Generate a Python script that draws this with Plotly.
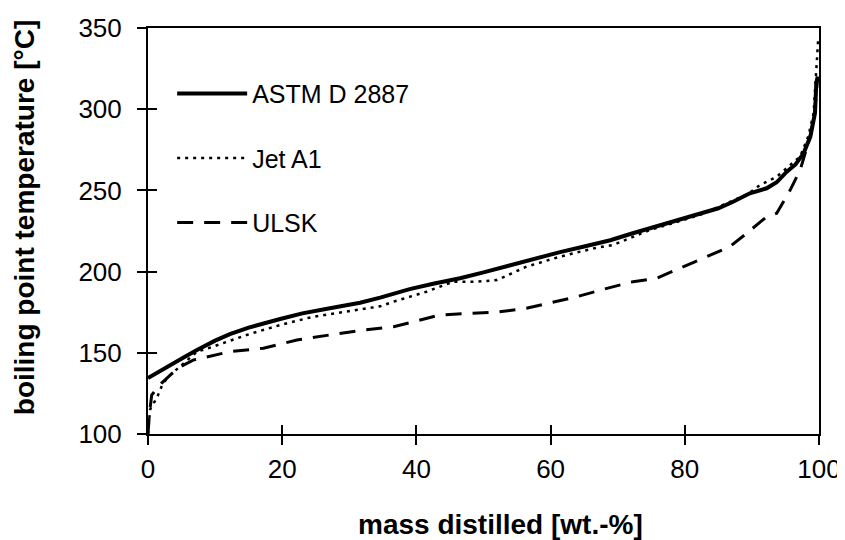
import plotly.graph_objects as go

# ---- data ----
astm_x = [0, 2, 3.8, 5.5, 7.3, 10, 12.2, 15, 19.7, 23, 27.1, 31.6, 34.6, 39, 42.5, 46.5, 50, 54,
          57.5, 61.4, 65, 68.9, 72, 74.8, 78.5, 82.3, 85, 87.2, 89.7, 92.2, 93.7, 95.2, 96.5,
          97.7, 98.7, 99.4, 99.6, 99.8]
astm_y = [134.5, 139, 143.5, 147.5, 151.7, 157.5, 161.5, 165.5, 170.8, 174.3, 177.4, 180.8, 184,
          189.2, 192.5, 195.9, 199.5, 204, 208, 212, 215.5, 219.3, 223.3, 226.7, 231, 235.9, 239,
          243, 248.2, 251.3, 255, 261.5, 266, 272.8, 283, 297.5, 316, 320]

jet_x = [0, 0.15, 0.3, 0.6, 1.0, 1.5, 2.2, 3.3, 4.8, 6, 7.3, 9.7, 14.7, 19.7, 24.6, 29.6, 31.6,
         34.6, 36.6, 41.5, 45.5, 49, 52, 56.4, 61.4, 66.4, 69.3, 74.8, 82.3, 87.2, 89.5, 91.2,
         93.7, 97.2, 98.4, 99.2, 99.6, 99.9]
jet_y = [100, 108, 114.8, 118, 120, 124, 131, 136.3, 141.4, 146, 150.7, 153.8, 161, 167.1, 172.2,
         175.3, 176.8, 178.6, 181.5, 187.6, 193.8, 193.8, 194.8, 203, 209.2, 214.3, 216.4, 225.6,
         234.9, 244.1, 248, 253.3, 258.4, 270.9, 283.2, 297.5, 324, 344.6]

ulsk_x = [0, 0.2, 0.55, 1.2, 2, 3.3, 4.8, 6.8, 9, 12.2, 17.2, 22.2, 27.1, 32.1, 36.6, 40, 43.5,
          48, 52, 56.4, 59.9, 63.9, 68.4, 72.3, 75.8, 79.8, 83.3, 86.7, 89.2, 92.2, 93.7, 95.7,
          97.2, 97.9, 98.8, 99.4, 99.8]
ulsk_y = [100, 112, 124, 127, 131.2, 136.3, 141.4, 145.6, 147.5, 150.7, 152.8, 157.9, 161, 164,
          166, 169.5, 173.3, 174.3, 175, 177.4, 180.5, 184.5, 189.7, 193.8, 195.9, 203, 209.2,
          215.3, 223.5, 233.8, 235.9, 250.2, 262.6, 272.8, 285, 300, 320]

x_ticks = [0, 20, 40, 60, 80, 100]
y_ticks = [100, 150, 200, 250, 300, 350]
x_title = "mass distilled [wt.-%]"
y_title = "boiling point temperature [°C]"

FONT = "Liberation Sans, Arial, sans-serif"

fig = go.Figure()
fig.add_trace(go.Scatter(x=astm_x, y=astm_y, mode="lines", name="ASTM D 2887",
                         legendgroup="a", line=dict(color="black", width=4)))
fig.add_trace(go.Scatter(x=jet_x, y=jet_y, mode="lines", name="Jet A1",
                         legendgroup="b", line=dict(color="black", width=2.5, dash="3px,5px")))
fig.add_trace(go.Scatter(x=ulsk_x, y=ulsk_y, mode="lines", name="ULSK",
                         legendgroup="c", line=dict(color="black", width=3, dash="16px,11px")))

axis_common = dict(showgrid=False, zeroline=False, linecolor="black", linewidth=2,
                   ticks="outside", ticklen=9, tickwidth=1.5, tickcolor="black",
                   automargin=False,
                   tickfont=dict(family=FONT, size=26, color="black"))

# the page body adds an 8px offset, so the figure is 8px smaller than the window
fig.update_layout(
    width=837, height=532,
    margin=dict(l=140, r=26, t=20, b=106),
    paper_bgcolor="white", plot_bgcolor="white",
    font=dict(family=FONT, size=25, color="black"),
    xaxis=dict(range=[0, 100], tickvals=x_ticks, mirror=True, ticklabelstandoff=2,
               **axis_common),
    yaxis=dict(range=[100, 350], tickvals=y_ticks, mirror=True, ticklabelstandoff=10,
               **axis_common),
    xaxis2=dict(range=[0, 100], tickvals=x_ticks, overlaying="x", anchor="y", side="bottom",
                showticklabels=False, showgrid=False, zeroline=False, showline=False,
                automargin=False,
                ticks="inside", ticklen=9, tickwidth=1.5, tickcolor="black"),
    yaxis2=dict(range=[100, 350], tickvals=y_ticks, overlaying="y", anchor="x", side="left",
                showticklabels=False, showgrid=False, zeroline=False, showline=False,
                automargin=False,
                ticks="inside", ticklen=9, tickwidth=1.5, tickcolor="black"),
    showlegend=True,
    legend=dict(x=0.036, y=0.895, xanchor="left", yanchor="top", bgcolor="rgba(0,0,0,0)",
                font=dict(family=FONT, size=25, color="black"), tracegroupgap=29,
                itemwidth=70),
    annotations=[
        dict(text="<b>" + x_title + "</b>", xref="paper", yref="paper", x=0.5246, y=-0.222,
             xanchor="center", yanchor="middle", showarrow=False,
             font=dict(family=FONT, size=28, color="black")),
        dict(text="<b>" + y_title + "</b>", xref="paper", yref="paper", x=-0.1848, y=0.534,
             xanchor="center", yanchor="middle", showarrow=False, textangle=-90,
             font=dict(family=FONT, size=28, color="black")),
    ],
)
# invisible trace to activate the overlay axes for the crossing tick marks
fig.add_trace(go.Scatter(x=[x_ticks[0]], y=[y_ticks[0]], xaxis="x2", yaxis="y2", mode="markers",
                         marker=dict(opacity=0), showlegend=False, hoverinfo="skip"))

fig.write_html("out.html")
